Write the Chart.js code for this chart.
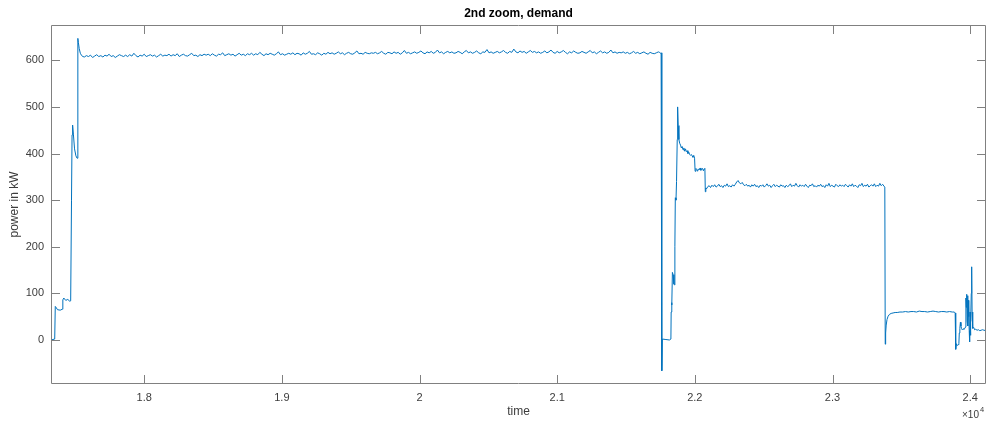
<!DOCTYPE html>
<html>
<head>
<meta charset="utf-8">
<script src="https://cdn.jsdelivr.net/npm/chart.js@4.4.1/dist/chart.umd.min.js"></script>
<style>
  html, body { margin: 0; padding: 0; background: #fff; }
  #wrap { width: 988px; height: 425px; }
</style>
</head>
<body>
<div id="wrap"><canvas id="demandChart" width="988" height="425"></canvas></div>
<script>
// axis limits and ticks (time in s, power in kW)
const X_MIN = 17323;
const X_MAX = 24115;
const Y_MIN = -94.4;
const Y_MAX = 675.7;
const xTickValues = [18000, 19000, 20000, 21000, 22000, 23000, 24000];
const xTickLabels = ['1.8', '1.9', '2', '2.1', '2.2', '2.3', '2.4'];
const yTickValues = [0, 100, 200, 300, 400, 500, 600];
const yTickLabels = ['0', '100', '200', '300', '400', '500', '600'];

// start-up: [time, kW]
const startUp = [
  [17323, 0], [17350, 2], [17354, 72], [17360, 70], [17370, 65], [17390, 64],
  [17405, 66], [17409, 86], [17416, 90], [17430, 85], [17445, 87], [17460, 83],
  [17466, 84], [17472, 300], [17476, 440], [17480, 461], [17486, 440], [17494, 410],
  [17504, 395], [17512, 390], [17518, 647], [17522, 638], [17528, 625], [17536, 615],
  [17546, 610], [17555, 608],
];

// full-load plateau, sampled every 15 s from 17565
const fullLoadStart = 17565;
const fullLoadStep = 15;
const fullLoad = [
  607, 610, 608, 611, 606, 609, 612, 608, 610, 607, 611, 609, 613, 608, 610, 606, 609, 612, 610, 608,
  611, 608, 612, 609, 615, 610, 607, 611, 609, 613, 608, 610, 612, 609, 611, 607, 610, 613, 609, 611,
  610, 613, 609, 612, 610, 614, 608, 611, 613, 610, 609, 612, 615, 610, 611, 608, 612, 610, 613, 611,
  613, 610, 614, 611, 609, 613, 612, 616, 610, 612, 614, 611, 613, 609, 612, 615, 611, 613, 610, 614,
  612, 615, 611, 614, 612, 617, 613, 610, 614, 612, 615, 613, 611, 614, 618, 612, 614, 611, 613, 615,
  613, 616, 612, 615, 614, 611, 616, 613, 615, 619, 613, 614, 612, 616, 614, 611, 615, 613, 617, 614,
  616, 613, 615, 618, 614, 616, 612, 615, 617, 614, 613, 616, 620, 614, 615, 613, 617, 615, 614, 616,
  615, 617, 614, 616, 619, 615, 613, 617, 616, 614, 618, 615, 617, 613, 616, 621, 615, 617, 614, 616,
  618, 615, 617, 620, 616, 614, 618, 616, 619, 615, 617, 622, 616, 618, 614, 617, 619, 616, 618, 615,
  616, 619, 617, 614, 618, 621, 616, 618, 615, 617, 620, 616, 614, 618, 617, 623, 616, 618, 615, 617,
  619, 616, 618, 621, 617, 615, 619, 617, 624, 618, 616, 620, 617, 619, 615, 618, 621, 617, 619, 616,
  618, 615, 617, 620, 616, 618, 622, 617, 615, 619, 616, 618, 621, 617, 614, 618, 616, 620, 617, 615,
  616, 619, 617, 615, 618, 621, 616, 618, 614, 617, 620, 616, 618, 615, 617, 622, 616, 618, 615, 617,
  616, 618, 615, 617, 614, 616, 619, 615, 617, 614, 616, 618, 615, 613, 617, 615, 614, 616, 618,
];

// trip and restart: [time, kW]
const restart = [
  [21744, 617], [21750, 615], [21755, 616], [21760, -66], [21764, 2],
  [21790, 1], [21815, 0], [21826, 2], [21828, 60], [21831, 80], [21834, 75],
  [21837, 145], [21842, 140], [21848, 120], [21852, 118], [21855, 200], [21858, 305],
  [21863, 300], [21867, 340], [21872, 430], [21875, 500], [21879, 460], [21884, 430],
  [21890, 422], [21896, 418], [21902, 412], [21908, 415], [21914, 408], [21920, 412],
  [21926, 405], [21932, 410], [21938, 404], [21944, 406], [21950, 400], [21956, 403],
  [21962, 398], [21968, 396], [21974, 398], [21980, 395], [21986, 392], [21992, 396],
  [21998, 390], [22002, 362], [22008, 368], [22014, 366], [22020, 362], [22026, 367],
  [22032, 365], [22038, 369], [22044, 364], [22050, 366], [22056, 368], [22062, 363],
  [22068, 367], [22073, 368], [22076, 318], [22080, 326],
];

// part-load plateau, sampled every 10 s from 22084
const partLoadStart = 22084;
const partLoadStep = 10;
const partLoad = [
  324, 329, 331, 327, 332, 329, 333, 328, 330, 334, 329, 331, 327, 332, 330, 335, 329, 331, 328, 333,
  330, 334, 339, 342, 337, 335, 338, 333, 331, 334, 330, 332, 328, 333, 330, 334, 329, 331, 327, 332,
  330, 333, 328, 331, 335, 330, 332, 327, 331, 334, 329, 332, 330, 328, 333, 330, 331, 327, 332, 329,
  331, 335, 329, 332, 330, 336, 331, 328, 333, 330, 332, 329, 334, 330, 327, 332, 331, 335, 329, 331,
  328, 332, 330, 334, 329, 331, 327, 333, 330, 336, 329, 332, 330, 328, 334, 331, 329, 333, 330, 332,
  329, 334, 331, 328, 333, 330, 335, 329, 332, 330, 327, 333, 331, 336, 329, 332, 330, 334, 328, 331,
  333, 330, 335, 329, 332, 330, 336, 331, 334, 330,
];

// step down to idle: [time, kW]
const stepDown = [
  [23380, 328], [23383, -9], [23386, 15], [23390, 32], [23396, 44], [23404, 51],
  [23414, 55], [23426, 57], [23440, 58], [23455, 59],
];

// idle plateau, sampled every 20 s from 23470
const idleStart = 23470;
const idleStep = 20;
const idle = [59, 60, 60, 61, 60, 61, 61, 60, 62, 61, 61, 60, 61, 62, 61, 60, 61, 61, 60, 61, 60];

// shutdown transients: [time, kW]
const shutdown = [
  [23885, 60], [23891, 58], [23893, -15], [23897, -20], [23900, -8], [23906, -12],
  [23912, -10], [23918, -8], [23921, 15], [23925, 25], [23929, 38], [23933, 30],
  [23937, 25], [23942, 22], [23948, 24], [23955, 23], [23962, 25], [23966, 28],
  [23969, 90], [23972, 70], [23975, 98], [23978, 40], [23981, 95], [23984, 30],
  [23987, 85], [23990, 50], [23993, 20], [23996, -4], [23999, 60], [24002, 10],
  [24005, 40], [24008, 100], [24011, 157], [24014, 60], [24017, 30], [24020, 25],
  [24026, 27], [24032, 22], [24040, 23], [24050, 21], [24060, 22], [24070, 20],
  [24080, 21], [24090, 22], [24100, 21], [24115, 20],
];

const pairs = (list) => list.map(([x, y]) => ({ x, y }));
const sampled = (start, step, values) => values.map((y, i) => ({ x: start + i * step, y }));

const points = [
  ...pairs(startUp),
  ...sampled(fullLoadStart, fullLoadStep, fullLoad),
  ...pairs(restart),
  ...sampled(partLoadStart, partLoadStep, partLoad),
  ...pairs(stepDown),
  ...sampled(idleStart, idleStep, idle),
  ...pairs(shutdown),
];

const AXIS_GREY = '#808080';
const TEXT_GREY = '#3c3c3c';
const FONT = '"Liberation Sans", Arial, sans-serif';

// matlab-style box, inward ticks on all four sides, titles
const matlabFrame = {
  id: 'matlabFrame',
  afterDraw(chart) {
    const { ctx, chartArea: a, scales: { x, y } } = chart;
    const tick = 9;
    ctx.save();
    ctx.strokeStyle = AXIS_GREY;
    ctx.lineWidth = 1;
    ctx.beginPath();
    ctx.rect(a.left + 0.5, a.top + 0.5, a.right - a.left - 1, a.bottom - a.top - 1);
    xTickValues.forEach((v) => {
      const px = Math.round(x.getPixelForValue(v)) + 0.5;
      ctx.moveTo(px, a.bottom);
      ctx.lineTo(px, a.bottom - tick);
      ctx.moveTo(px, a.top);
      ctx.lineTo(px, a.top + tick);
    });
    yTickValues.forEach((v) => {
      const py = Math.round(y.getPixelForValue(v)) + 0.5;
      ctx.moveTo(a.left, py);
      ctx.lineTo(a.left + tick, py);
      ctx.moveTo(a.right, py);
      ctx.lineTo(a.right - tick, py);
    });
    ctx.stroke();

    const cx = (a.left + a.right) / 2;
    ctx.fillStyle = '#000';
    ctx.textAlign = 'center';
    ctx.textBaseline = 'middle';
    ctx.font = `bold 12px ${FONT}`;
    ctx.fillText('2nd zoom, demand', cx, 14);

    ctx.fillStyle = TEXT_GREY;
    ctx.font = `12px ${FONT}`;
    ctx.fillText('time', cx, 412);

    ctx.save();
    ctx.translate(15, (a.top + a.bottom) / 2);
    ctx.rotate(-Math.PI / 2);
    ctx.fillText('power in kW', 0, 0);
    ctx.restore();

    ctx.textAlign = 'left';
    ctx.textBaseline = 'alphabetic';
    ctx.font = `10px ${FONT}`;
    ctx.fillText('\u00d710', 962, 418);
    ctx.font = `7.5px ${FONT}`;
    ctx.fillText('4', 980, 412);
    ctx.restore();
  },
};

new Chart(document.getElementById('demandChart'), {
  type: 'scatter',
  data: {
    datasets: [
      {
        label: 'demand',
        data: points,
        showLine: true,
        borderColor: '#0072BD',
        borderWidth: 1,
        pointRadius: 0,
        tension: 0,
      },
    ],
  },
  options: {
    responsive: false,
    animation: false,
    events: [],
    layout: { padding: { top: 25, left: 0, right: 2, bottom: 0 } },
    plugins: { legend: { display: false }, tooltip: { enabled: false } },
    scales: {
      x: {
        type: 'linear',
        min: X_MIN,
        max: X_MAX,
        afterBuildTicks: (s) => { s.ticks = xTickValues.map((value) => ({ value })); },
        afterFit: (s) => { s.height = 41; },
        grid: { display: false, drawTicks: false },
        border: { display: false },
        ticks: {
          autoSkip: false,
          maxRotation: 0,
          padding: 7,
          color: TEXT_GREY,
          font: { family: FONT, size: 11 },
          callback: (v, i) => xTickLabels[i],
        },
      },
      y: {
        type: 'linear',
        min: Y_MIN,
        max: Y_MAX,
        afterBuildTicks: (s) => { s.ticks = yTickValues.map((value) => ({ value })); },
        afterFit: (s) => { s.width = 51; },
        grid: { display: false, drawTicks: false },
        border: { display: false },
        ticks: {
          padding: 7,
          color: TEXT_GREY,
          font: { family: FONT, size: 11 },
          callback: (v, i) => yTickLabels[i],
        },
      },
    },
  },
  plugins: [matlabFrame],
});
</script>
</body>
</html>
